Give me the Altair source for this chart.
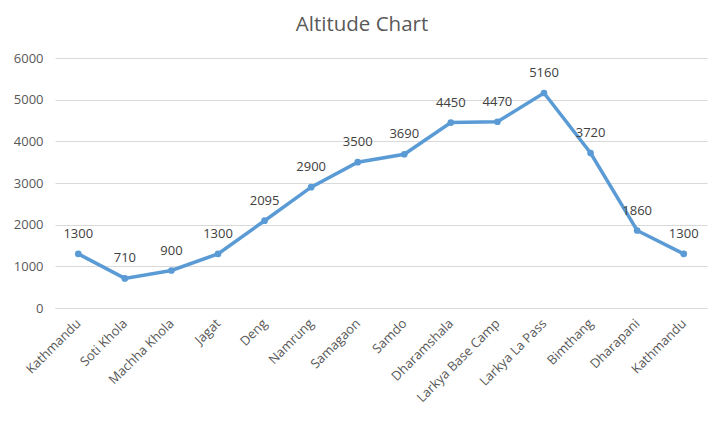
import altair as alt
import pandas as pd

places = ["Kathmandu", "Soti Khola", "Machha Khola", "Jagat", "Deng", "Namrung",
          "Samagaon", "Samdo", "Dharamshala", "Larkya Base Camp", "Larkya La Pass",
          "Bimthang", "Dharapani", "Kathmandu"]
altitudes = [1300, 710, 900, 1300, 2095, 2900, 3500, 3690, 4450, 4470, 5160, 3720, 1860, 1300]

df = pd.DataFrame({"idx": list(range(len(places))), "place": places, "alt": altitudes})

label_expr = "[" + ",".join('"%s"' % p for p in places) + "][datum.value]"

FONT = "Open Sans"

x = alt.X("idx:O", title=None,
          axis=alt.Axis(labelExpr=label_expr, labelAngle=-45, labelAlign="right",
                        labelBaseline="middle", ticks=False, domain=True,
                        domainColor="#d9d9d9", labelColor="#595959",
                        labelFontSize=13, labelFont=FONT, labelPadding=13, grid=False))
y = alt.Y("alt:Q", title=None,
          scale=alt.Scale(domain=[0, 6000], nice=False),
          axis=alt.Axis(values=[0, 1000, 2000, 3000, 4000, 5000, 6000], format="d",
                        ticks=False, domain=False, gridColor="#d9d9d9",
                        labelColor="#595959", labelFontSize=13, labelFont=FONT,
                        labelPadding=12))

base = alt.Chart(df)
line = base.mark_line(color="#5B9BD5", strokeWidth=3.5).encode(x=x, y=y)
pts = base.mark_point(color="#5B9BD5", filled=True, size=45, opacity=1).encode(x=x, y=y)
labels = base.mark_text(dy=-20, fontSize=13, font=FONT, color="#404040").encode(
    x=x, y=y, text="alt:Q")

chart = (line + pts + labels).properties(
    width=652, height=250,
    autosize=alt.AutoSizeParams(type="none"),
    padding={"left": 47, "top": 50, "right": 12, "bottom": 105},
    title=alt.TitleParams("Altitude Chart", font=FONT, fontSize=20.5, fontWeight="normal",
                          color="#595959", anchor="middle", dx=-19, offset=17),
).configure_view(stroke=None)

chart.save("out.html", embed_options={"renderer": "svg", "actions": False})
